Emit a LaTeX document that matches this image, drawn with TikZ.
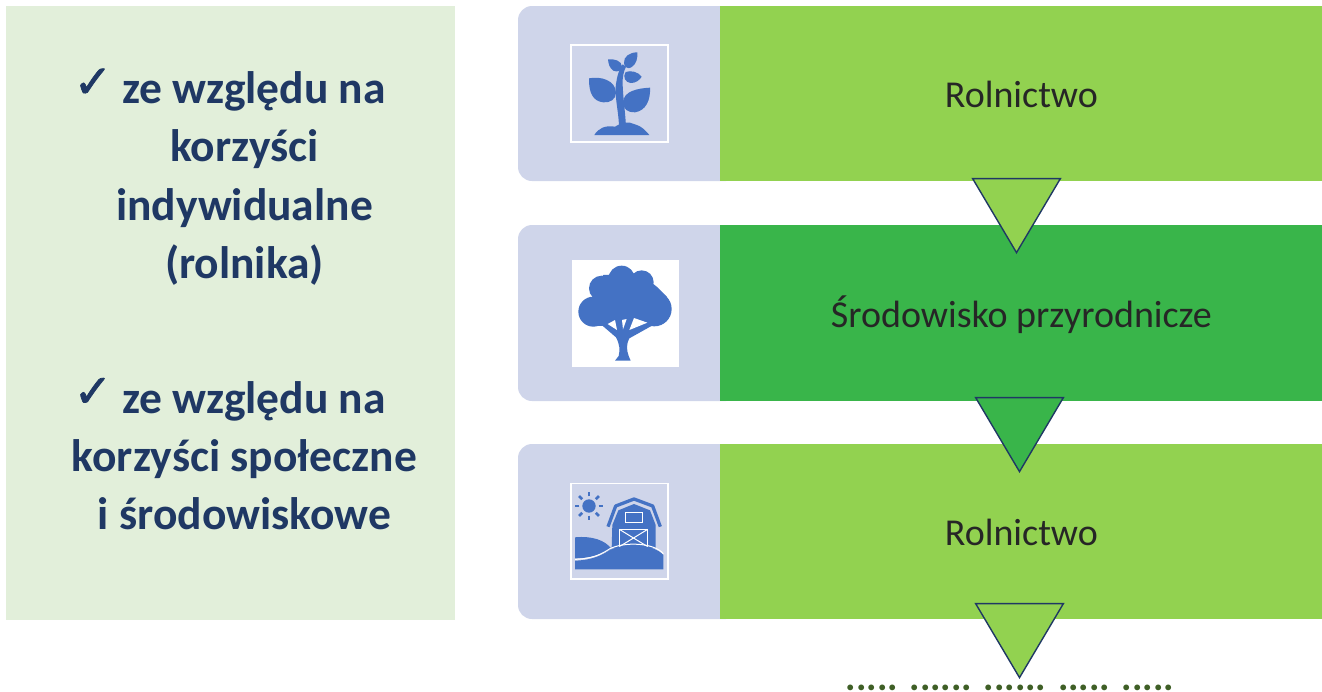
\documentclass[tikz,border=0pt]{standalone}
\usepackage{fontspec}
\setmainfont{Carlito}
\newfontfamily\checkfont[FakeBold=1.6]{DejaVu Sans}
\usetikzlibrary{positioning,shapes.geometric}
\definecolor{navytext}{HTML}{1F3864}
\definecolor{palegreen}{HTML}{E2EFDA}
\definecolor{panelblue}{HTML}{CFD5EA}
\definecolor{iconblue}{HTML}{4472C4}
\definecolor{lightbar}{HTML}{92D250}
\definecolor{darkbar}{HTML}{39B54A}
\definecolor{dotgreen}{HTML}{3F5F26}
\newcommand{\tick}{\llap{\raisebox{6pt}{\checkfont\fontsize{46}{46}\selectfont ✓}\hspace{10pt}}}

\begin{document}
\begin{tikzpicture}[x=1pt,y=-1pt,
                    side box/.style={fill=palegreen,minimum width=449pt,minimum height=614pt,inner sep=0pt},
                    side text/.style={text=navytext,align=center,font=\bfseries\fontsize{45.5}{58.3}\selectfont},
                    panel box/.style={fill=panelblue,rounded corners=14pt,minimum width=222pt,minimum height=175pt,inner sep=0pt},
                    bar box/.style={minimum width=602pt,minimum height=175pt,inner sep=0pt,text=black!85,text height=28pt,text depth=0pt,font=\fontsize{38}{42}\selectfont},
                    arrow tri/.style={isosceles triangle,isosceles triangle apex angle=61.3,shape border rotate=-90,minimum height=74pt,inner sep=0pt,draw=navytext,line width=1.4pt,anchor=apex},
                    frame box/.style={draw=white,line width=1.1pt}]
  \useasboundingbox (0,0) rectangle (1322,691);

  \node[side box] (side) at (230.5,313) {};
  \node[side text] (text1) at (244.5,177) {\hspace*{19pt}\tick ze względu na\\korzyści\\indywidualne\\(rolnika)};
  \node[side text] (text2) at (244.5,454) {\hspace*{19pt}\tick ze względu na\\korzyści społeczne\\i środowiskowe};

  \node[panel box] (panel1) at (629,93.5) {};
  \node[panel box,minimum height=176pt] (panel2) at (629,313) {};
  \node[panel box] (panel3) at (629,531.5) {};

  \node[bar box,fill=lightbar,anchor=west] (bar1) at ([xshift=-20pt]panel1.east) {Rolnictwo};
  \node[bar box,fill=darkbar,minimum height=176pt,anchor=west] (bar2) at ([xshift=-20pt]panel2.east) {Środowisko przyrodnicze};
  \node[bar box,fill=lightbar,anchor=west] (bar3) at ([xshift=-20pt]panel3.east) {Rolnictwo};

  \node[arrow tri,fill=lightbar] (tri1) at (1016.5,254) {};
  \node[arrow tri,fill=darkbar] (tri2) at (1019.5,473) {};
  \node[arrow tri,fill=lightbar] (tri3) at (1019.5,679) {};

  \node[text=dotgreen,inner sep=0pt,font=\bfseries\fontsize{39}{39}\selectfont,anchor=base] (more) at (1010,690.5) {..... ...... ...... ..... .....};

  % plant
  \draw[frame box] (571,45) rectangle (668,142);
  \begin{scope}[shift={(560,30)},scale=1/3,fill=iconblue]
    \fill (103,315) .. controls (115,295) and (135,285) .. (165,290) .. controls (185,278) and (205,273) .. (225,283) .. controls (245,288) and (258,303) .. (268,315) -- cycle;
    \fill (177,290) .. controls (176,240) and (160,190) .. (170,150) .. controls (173,130) and (180,115) .. (188,103) -- (198,110) .. controls (191,125) and (187,140) .. (188,165) .. controls (189,200) and (196,250) .. (198,290) -- cycle;
    \fill (87,145) .. controls (120,138) and (167,150) .. (168,188) .. controls (168,208) and (150,219) .. (130,217) .. controls (100,214) and (86,190) .. (87,145) -- cycle;
    \fill (270,173) .. controls (235,175) and (190,182) .. (189,218) .. controls (189,238) and (205,248) .. (225,247) .. controls (258,242) and (272,210) .. (270,173) -- cycle;
    \fill (232,67) .. controls (208,67) and (190,80) .. (192,100) .. controls (193,112) and (205,118) .. (214,112) .. controls (230,102) and (233,85) .. (232,67) -- cycle;
    \fill (144,88) .. controls (162,86) and (186,92) .. (186,110) .. controls (186,122) and (172,128) .. (160,122) .. controls (148,114) and (145,100) .. (144,88) -- cycle;
    \fill (245,140) .. controls (235,126) and (213,120) .. (197,126) .. controls (187,140) and (196,158) .. (212,159) .. controls (226,160) and (240,150) .. (245,140) -- cycle;
  \end{scope}

  % tree
  \fill[white] (571.5,260) rectangle (679,367);
  \begin{scope}[shift={(560,250)},scale=1/3,fill=iconblue]
    \fill (185,87) circle (40);
    \fill (125,115) circle (38);
    \fill (245,97) circle (36);
    \fill (100,185) circle (45);
    \fill (283,177) circle (52);
    \fill (100,140) -- (130,75) -- (240,70) -- (290,110) -- (320,140) -- (330,200) -- (270,225) -- (100,228) -- (65,200) -- cycle;
    \fill (165,332) -- (212,332) -- (206,318) .. controls (200,300) and (198,285) .. (208,265) -- (285,222) -- (180,195) -- (125,225) -- (168,262) .. controls (180,285) and (180,300) .. (176,318) -- cycle;
    \fill[white] (143,222) -- (165,210) -- (171,240) -- cycle;
    \fill[white] (186,210) -- (200,207) -- (189,238) -- cycle;
    \fill[white] (222,204) -- (262,218) -- (208,240) -- cycle;
  \end{scope}

  % barn
  \draw[frame box] (571,483.5) rectangle (668,579);
  \begin{scope}[shift={(560,475)},scale=1/3,fill=iconblue]
    \fill (87,93) circle (20);
    \foreach \ang in {0,45,...,315}
      \draw[iconblue,line width=2.6pt] (87,93) ++(\ang:29) -- ++(\ang:13);
    \draw[iconblue,line width=3.3pt,line join=round] (144,155) -- (167,93) -- (222,72) -- (278,93) -- (301,155);
    \fill (157,150) -- (175,106) -- (222,87) -- (270,106) -- (287,150) -- (287,220) -- (155,220) -- cycle;
    \draw[white,line width=1pt] (195,112) rectangle (246,142);
    \draw[white,line width=1pt] (178,215) -- (178,163) -- (263,163) -- (263,215);
    \draw[white,line width=1pt] (178,163) -- (263,215) (263,163) -- (178,215);
    \fill (45,187) .. controls (95,182) and (135,195) .. (155,222) .. controls (125,238) and (90,250) .. (45,250) -- cycle;
    \fill (45,257) .. controls (100,255) and (125,240) .. (150,225) .. controls (190,205) and (280,205) .. (310,240) -- (310,283) -- (45,283) -- cycle;
    \draw[white,line width=1pt] (45,253) .. controls (100,251) and (125,237) .. (150,221) .. controls (190,201) and (280,201) .. (310,236);
  \end{scope}
\end{tikzpicture}
\end{document}
